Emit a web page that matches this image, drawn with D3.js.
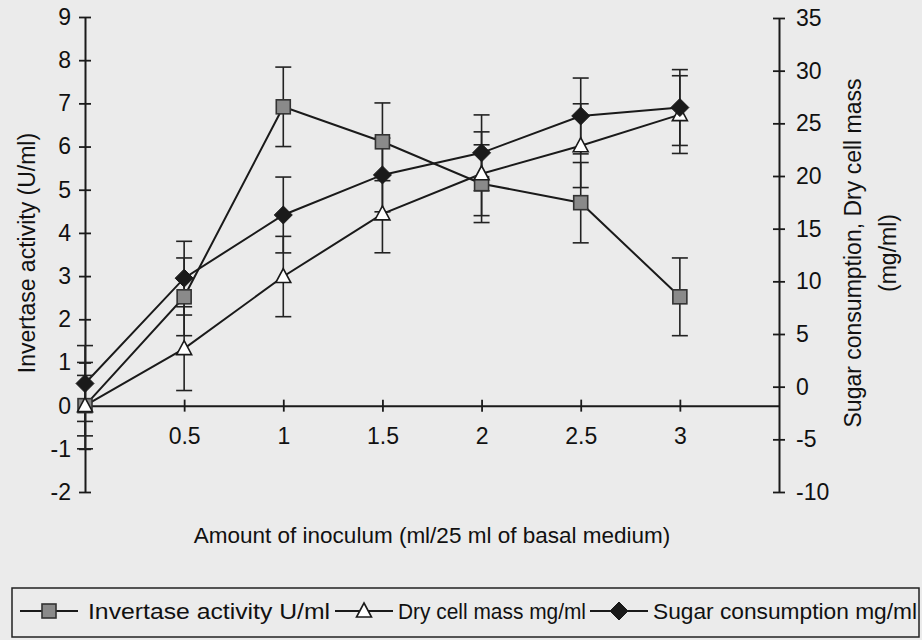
<!DOCTYPE html>
<html>
<head>
<meta charset="utf-8">
<script src="https://cdn.jsdelivr.net/npm/d3@7"></script>
<style>
  html, body { margin: 0; padding: 0; background: #ebebeb; }
  svg { display: block; }
  text { font-family: "Liberation Sans", Arial, sans-serif; fill: #111; }
</style>
</head>
<body>
<svg id="chart" width="922" height="640"></svg>
<script>
// ---- data ----
const inoculum = [0, 0.5, 1, 1.5, 2, 2.5, 3];
const invertase = [0, 2.52, 6.92, 6.11, 5.14, 4.70, 2.52];          // U/ml (left axis)
const invertaseErr = [1.0, 0.9, 0.92, 0.9, 0.9, 0.93, 0.9];
const dryCellMass = [0, 1.32, 2.99, 4.44, 5.37, 6.02, 6.74];        // drawn against left axis
const dryCellMassErr = [0.7, 0.97, 0.93, 0.9, 0.97, 0.97, 0.9];
const sugar = [0.3, 10.3, 16.3, 20.1, 22.2, 25.7, 26.5];            // mg/ml (right axis)
const sugarErr = [3.6, 3.5, 3.6, 3.5, 3.6, 3.6, 3.6];
const leftTicks = [-2, -1, 0, 1, 2, 3, 4, 5, 6, 7, 8, 9];
const rightTicks = [-10, -5, 0, 5, 10, 15, 20, 25, 30, 35];
const xTicks = [0.5, 1, 1.5, 2, 2.5, 3];
const legendLabels = ["Invertase activity U/ml", "Dry cell mass mg/ml", "Sugar consumption mg/ml"];

const svg = d3.select("#chart");
svg.append("rect").attr("width", 922).attr("height", 640).attr("fill", "#ebebeb");

const x = d3.scaleLinear().domain([0, 3.5]).range([85, 779]);
const yL = d3.scaleLinear().domain([-2, 9]).range([492, 17]);
const yR = d3.scaleLinear().domain([-10, 35]).range([492, 18]);

const ink = "#1a1a1a";
const fmt = d => String(d);

function styleAxis(g, horizontal) {
  g.select(".domain").attr("stroke", ink).attr("stroke-width", 2);
  g.selectAll(".tick line").remove();
  if (horizontal) {
    g.selectAll(".tick").append("line").attr("y1", -6).attr("y2", 6).attr("stroke", ink).attr("stroke-width", 1.8);
  } else {
    g.selectAll(".tick").append("line").attr("x1", -6).attr("x2", 6).attr("stroke", ink).attr("stroke-width", 1.8);
  }
  g.attr("font-size", 23).attr("font-family", "Liberation Sans, Arial, sans-serif");
  g.selectAll(".tick text").attr("font-size", 23).attr("fill", "#111");
}

// ---- axes ----
const gL = svg.append("g").attr("transform", `translate(${x(0)},0)`)
  .call(d3.axisLeft(yL).tickValues(leftTicks).tickSize(0).tickPadding(14).tickFormat(fmt));
styleAxis(gL, false);

const gR = svg.append("g").attr("transform", `translate(${x(3.5)},0)`)
  .call(d3.axisRight(yR).tickValues(rightTicks).tickSize(0).tickPadding(17).tickFormat(fmt));
styleAxis(gR, false);

const gB = svg.append("g").attr("transform", `translate(0,${yL(0)})`)
  .call(d3.axisBottom(x).tickValues(xTicks).tickSize(0).tickPadding(22).tickFormat(fmt));
styleAxis(gB, true);

// ---- axis titles ----
svg.append("text").attr("transform", `translate(27,253) rotate(-90)`)
  .attr("text-anchor", "middle").attr("dominant-baseline", "central")
  .attr("font-size", 23).text("Invertase activity (U/ml)");
svg.append("text").attr("transform", `translate(853,253) rotate(-90)`)
  .attr("text-anchor", "middle").attr("dominant-baseline", "central")
  .attr("font-size", 23).text("Sugar consumption, Dry cell mass");
svg.append("text").attr("transform", `translate(888,253) rotate(-90)`)
  .attr("text-anchor", "middle").attr("dominant-baseline", "central")
  .attr("font-size", 23).text("(mg/ml)");
svg.append("text").attr("x", 432).attr("y", 535)
  .attr("text-anchor", "middle").attr("dominant-baseline", "central")
  .attr("font-size", 22.5).text("Amount of inoculum (ml/25 ml of basal medium)");

// ---- series ----
const series = [
  { vals: invertase, errs: invertaseErr, y: yL, marker: "square" },
  { vals: dryCellMass, errs: dryCellMassErr, y: yL, marker: "triangle" },
  { vals: sugar, errs: sugarErr, y: yR, marker: "diamond" }
];

const plot = svg.append("g");
series.forEach(s => {
  const line = d3.line().x((d, i) => x(inoculum[i])).y(d => s.y(d));
  plot.append("path").datum(s.vals).attr("d", line)
    .attr("fill", "none").attr("stroke", ink).attr("stroke-width", 2);
});
const capW = 8;
series.forEach(s => {
  const g = plot.append("g").attr("stroke", "#222").attr("stroke-width", 1.6);
  s.vals.forEach((v, i) => {
    const cx = x(inoculum[i]);
    const y1 = s.y(v + s.errs[i]), y2 = s.y(v - s.errs[i]);
    g.append("line").attr("x1", cx).attr("x2", cx).attr("y1", y1).attr("y2", y2);
    g.append("line").attr("x1", cx - capW).attr("x2", cx + capW).attr("y1", y1).attr("y2", y1);
    g.append("line").attr("x1", cx - capW).attr("x2", cx + capW).attr("y1", y2).attr("y2", y2);
  });
});

function drawMarker(g, type, cx, cy) {
  if (type === "square") {
    g.append("rect").attr("x", cx - 7).attr("y", cy - 7).attr("width", 14).attr("height", 14)
      .attr("fill", "#8a8a8a").attr("stroke", "#333").attr("stroke-width", 1.6);
  } else if (type === "triangle") {
    g.append("path").attr("d", `M${cx},${cy - 8} L${cx + 7.5},${cy + 6} L${cx - 7.5},${cy + 6} Z`)
      .attr("fill", "#fff").attr("stroke", "#1a1a1a").attr("stroke-width", 1.6);
  } else {
    g.append("path").attr("d", `M${cx},${cy - 9} L${cx + 9},${cy} L${cx},${cy + 9} L${cx - 9},${cy} Z`)
      .attr("fill", "#1a1a1a").attr("stroke", "#1a1a1a").attr("stroke-width", 1);
  }
}
series.forEach(s => {
  const g = plot.append("g");
  s.vals.forEach((v, i) => drawMarker(g, s.marker, x(inoculum[i]), s.y(v)));
});

// ---- legend ----
const lg = svg.append("g");
lg.append("rect").attr("x", 12).attr("y", 588).attr("width", 907).attr("height", 49)
  .attr("fill", "none").attr("stroke", "#222").attr("stroke-width", 1.5);
const legItems = [
  { marker: "square", lineX: 20, textX: 88, textW: 242 },
  { marker: "triangle", lineX: 335, textX: 398, textW: 188 },
  { marker: "diamond", lineX: 590, textX: 653, textW: 264 }
];
legItems.forEach((it, i) => {
  const cy = 611;
  lg.append("line").attr("x1", it.lineX).attr("x2", it.lineX + 58).attr("y1", cy).attr("y2", cy)
    .attr("stroke", ink).attr("stroke-width", 2);
  drawMarker(lg.append("g"), it.marker, it.lineX + 29, cy);
  lg.append("text").attr("x", it.textX).attr("y", cy).attr("dominant-baseline", "central")
    .attr("font-size", 22).attr("font-family", "Liberation Sans Narrow, Liberation Sans, Arial, sans-serif")
    .attr("textLength", it.textW).attr("lengthAdjust", "spacingAndGlyphs")
    .text(legendLabels[i]);
});
</script>
</body>
</html>
